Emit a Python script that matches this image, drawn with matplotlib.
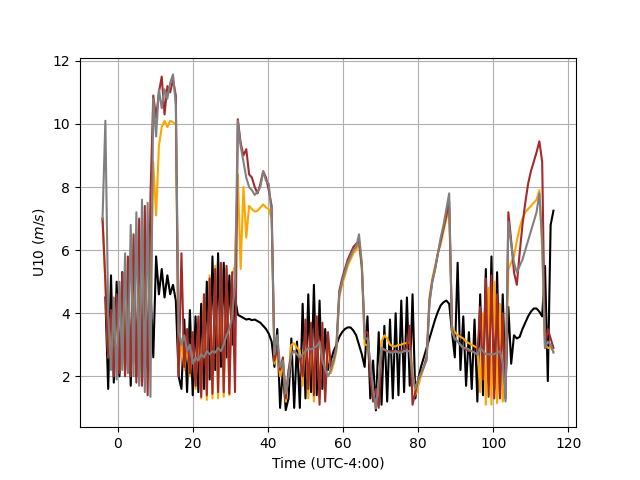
import numpy as np
import matplotlib
matplotlib.use('Agg')
import matplotlib.pyplot as plt

nan = np.nan

# time axis: one sample every 0.75 h, from -4 to 116
time = np.arange(-4, 116.01, 0.75)

obs = [
    nan, 4.5, 1.6, 5.2, 1.8, 5.0, 2.0, 5.3, 2.2, 5.1,
    1.7, 4.9, 2.0, 5.2, 1.8, 5.0, 2.3, 4.8, 2.6, 5.8,
    4.6, 5.4, 4.5, 5.2, 4.6, 4.9, 4.4, 2.0, 1.6, 3.8,
    1.5, 4.1, 1.4, 3.9, 1.5, 4.3, 1.6, 5.0, 1.9, 5.8,
    2.2, 5.9, 2.3, 5.6, 2.6, 5.2, 3.0, 4.5, 3.95, 3.9,
    3.85, 3.8, 3.82, 3.78, 3.8, 3.75, 3.7, 3.6, 3.5, 3.35,
    3.1, 2.3, 3.5, 1.0, 2.2, 0.93, 1.3, 3.2, 1.0, 3.1,
    1.0, 4.3, 1.3, 4.6, 1.5, 4.9, 1.4, 4.4, 1.6, 3.5,
    2.2, 2.5, 2.8, 3.0, 3.25, 3.4, 3.5, 3.55, 3.55, 3.45,
    3.3, 3.0, 2.7, 2.3, 3.9, 1.3, 2.5, 0.92, 3.4, 1.1,
    3.6, 1.2, 3.8, 1.3, 4.0, 1.4, 4.4, 1.5, 4.5, 1.7,
    4.6, 1.3, 1.9, 2.3, 2.6, 2.9, 3.2, 3.5, 3.8, 4.05,
    4.25, 4.35, 4.4, 4.3, 3.4, 2.6, 5.6, 2.2, 3.9, 1.7,
    3.4, 1.6, 3.8, 1.2, 4.6, 1.4, 5.4, 1.8, 5.8, 1.6,
    5.3, 1.5, 4.6, 1.7, 4.2, 2.4, 3.3, 3.2, 3.25, 3.5,
    3.7, 3.9, 4.05, 4.15, 4.15, 4.05, 3.9, 5.5, 1.85, 6.8,
    7.25,
]

run_orange = [
    7.0, 5.0, 2.6, 3.9, 2.3, 4.2, 2.2, 4.6, 2.4, 5.2,
    2.2, 5.7, 2.1, 6.1, 2.3, 6.3, 2.5, 4.5, 8.8, 7.1,
    9.3, 9.9, 10.1, 9.9, 10.1, 10.05, 10.0, 2.2, 3.2, 2.2,
    3.0, 2.0, 3.2, 1.6, 3.7, 1.3, 4.6, 1.25, 5.2, 1.3,
    5.5, 1.3, 5.4, 1.35, 5.4, 1.4, 5.2, 5.5, 8.4, 5.4,
    8.0, 6.4, 7.4, 7.3, 7.22, 7.25, 7.35, 7.45, 7.35, 7.3,
    7.0, 2.4, 2.8, 2.0, 2.4, 1.2, 2.1, 3.0, 3.05, 2.9,
    2.8, 1.7, 3.6, 1.3, 3.5, 1.2, 3.9, 1.3, 3.5, 1.5,
    3.2, 2.1, 2.4, 2.8, 4.5, 4.9, 5.2, 5.5, 5.7, 5.9,
    6.0, 6.2, 5.4, 3.0, 3.0, 2.3, 1.5, 1.0, 1.8, 3.1,
    3.3, 3.2, 3.0, 2.95, 2.95, 3.0, 3.0, 3.05, 3.05, 3.1,
    2.2, 1.4, 1.7, 2.0, 2.3, 2.6, 4.5, 5.1, 5.5, 5.9,
    6.2, 6.6, 7.0, 7.3, 3.6, 3.4, 3.3, 3.25, 3.2, 3.1,
    3.05, 3.0, 2.95, 2.9, 1.5, 4.0, 1.1, 4.8, 1.1, 5.0,
    1.15, 4.3, 1.2, 1.8, 5.4, 5.6, 5.8, 6.3, 6.7, 7.0,
    7.2, 7.3, 7.4, 7.5, 7.6, 7.9, 6.0, 3.0, 2.9, 2.9,
    2.8,
]

run_brown = [
    7.0, 5.0, 2.6, 4.1, 2.0, 4.6, 2.1, 5.3, 2.0, 5.8,
    2.0, 6.5, 1.8, 7.0, 1.7, 7.4, 1.4, 7.7, 10.9, 10.2,
    11.0, 11.5, 10.3, 11.2, 11.0, 11.4, 10.9, 2.0, 5.9, 2.3,
    3.5, 2.1, 3.4, 1.7, 3.9, 1.35, 4.6, 1.4, 5.1, 1.45,
    5.4, 1.5, 5.6, 1.5, 5.5, 1.45, 5.3, 1.5, 10.15, 9.4,
    9.0, 9.2, 8.4, 8.3, 8.0, 7.8, 8.1, 8.5, 8.3, 7.9,
    7.4, 2.5, 2.9, 2.2, 2.6, 1.3, 2.2, 2.7, 2.8, 2.7,
    2.6, 2.0, 3.8, 1.6, 3.7, 1.4, 3.9, 1.1, 3.7, 1.2,
    3.4, 2.3, 2.5, 3.0, 4.7, 5.1, 5.4, 5.7, 5.9, 6.1,
    6.2, 6.3, 5.5, 3.4, 3.4, 2.0, 1.2, 1.6, 1.0, 2.8,
    2.85, 2.8, 2.8, 2.8, 2.8, 2.8, 2.8, 2.85, 2.9, 3.6,
    1.1, 1.5, 1.9, 2.1, 2.3, 2.6, 4.4, 5.0, 5.4, 5.9,
    6.3, 6.7, 7.1, 7.55, 3.5, 3.2, 3.1, 3.0, 2.9, 2.85,
    2.8, 2.8, 2.75, 2.7, 4.2, 1.9, 5.1, 1.35, 5.2, 1.3,
    4.6, 1.3, 4.0, 1.3, 7.2, 6.3, 5.3, 4.9, 5.9, 6.8,
    7.5, 8.1, 8.5, 8.8, 9.1, 9.45, 8.8, 2.9, 3.5, 3.2,
    2.9,
]

run_gray = [
    7.0, 10.1, 4.0, 2.2, 4.5, 1.9, 5.0, 2.2, 5.9, 2.1,
    6.8, 2.0, 7.2, 1.7, 7.6, 1.5, 7.5, 1.35, 10.8, 9.6,
    11.1, 10.5, 11.1, 10.8, 11.3, 11.57, 10.6, 3.4, 3.0, 3.3,
    2.8, 3.0, 2.4, 2.6, 2.5, 2.7, 2.6, 2.8, 2.7, 2.8,
    2.75, 2.9, 2.8, 3.0, 3.3, 3.5, 3.9, 4.9, 10.1, 9.3,
    8.8, 8.3, 8.0, 7.9, 7.75, 7.85, 8.0, 8.5, 8.2, 8.1,
    7.1, 2.7, 3.3, 2.3, 2.5, 1.45, 2.0, 2.7, 2.8, 2.7,
    2.6, 2.7, 2.8, 2.9, 2.85, 2.9, 2.95, 3.1, 2.5, 2.2,
    2.0, 2.2, 2.5, 2.9, 4.6, 5.0, 5.3, 5.6, 5.8, 6.0,
    6.1, 6.5, 5.6, 3.2, 3.2, 2.5, 1.6, 0.98, 1.9, 2.9,
    2.85, 2.8, 2.75, 2.75, 2.8, 2.75, 2.75, 2.8, 2.8, 2.8,
    2.0, 1.6, 1.9, 2.1, 2.3, 2.5, 4.3, 5.0, 5.4, 5.9,
    6.4, 6.8, 7.3, 7.8, 3.4, 3.2, 3.1, 3.0, 2.9, 2.9,
    2.85, 2.8, 2.75, 2.7, 2.9, 2.8, 2.7, 2.7, 2.7, 2.7,
    2.75, 2.8, 2.4, 1.2, 6.9, 6.2, 5.6, 5.3, 5.5, 5.7,
    6.0, 6.3, 6.6, 6.9, 7.2, 7.8, 6.3, 2.9, 3.1, 3.0,
    2.75,
]

fig = plt.figure(figsize=(6.4, 4.8), dpi=100)
plt.plot(time, obs, color='black')
plt.plot(time, run_orange, color='orange')
plt.plot(time, run_brown, color='brown')
plt.plot(time, run_gray, color='gray')

plt.xlabel('Time (UTC-4:00)')
plt.ylabel('U10 ($m/s$)')
plt.grid(True)

plt.savefig('out.png')
